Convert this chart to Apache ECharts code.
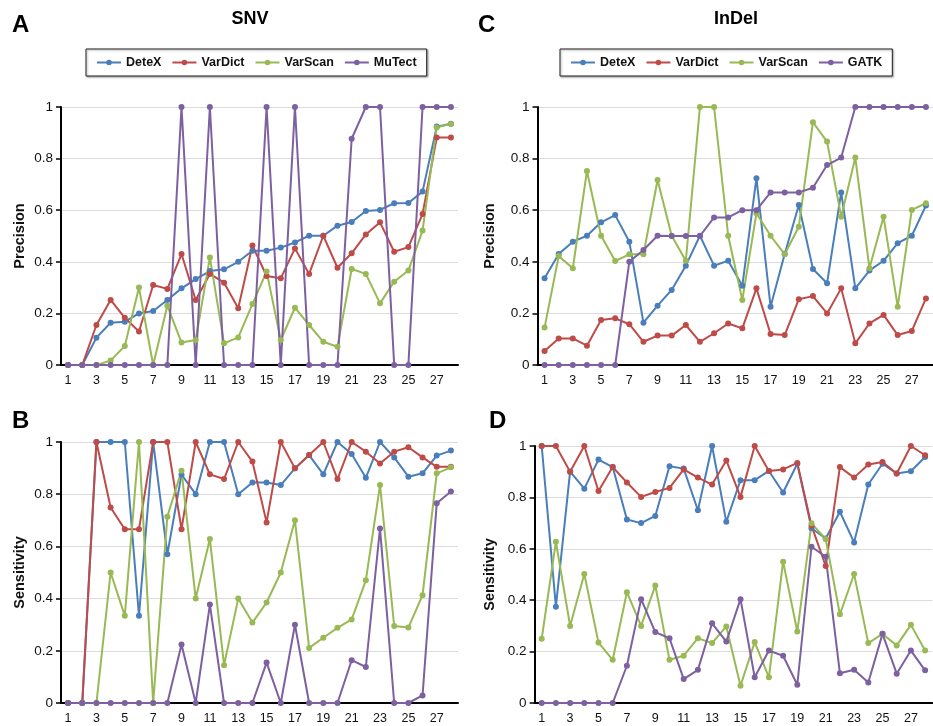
<!DOCTYPE html>
<html>
<head>
<meta charset="utf-8">
<script src="https://cdn.jsdelivr.net/npm/echarts@6/dist/echarts.min.js"></script>
<style>
  body { margin: 0; background: #fff; }
  #main { width: 933px; height: 726px; }
</style>
</head>
<body>
<div id="main"></div>
<script>
var cats = ['1','2','3','4','5','6','7','8','9','10','11','12','13','14',
            '15','16','17','18','19','20','21','22','23','24','25','26','27','28'];

// A - SNV precision
var snvPrecDetex = [0, 0, 0.106, 0.164, 0.168, 0.2, 0.209, 0.252, 0.297, 0.333, 0.364, 0.371, 0.40, 0.443, 0.443, 0.455, 0.475, 0.501, 0.501, 0.54, 0.554, 0.597, 0.601, 0.627, 0.628, 0.672, 0.924, 0.935];
var snvPrecVardict = [0, 0, 0.155, 0.252, 0.183, 0.13, 0.31, 0.295, 0.43, 0.252, 0.353, 0.319, 0.22, 0.463, 0.345, 0.336, 0.452, 0.353, 0.501, 0.377, 0.433, 0.506, 0.553, 0.439, 0.457, 0.585, 0.882, 0.882];
var snvPrecVarscan = [0, 0, 0, 0.017, 0.074, 0.30, 0, 0.23, 0.087, 0.097, 0.417, 0.084, 0.107, 0.236, 0.362, 0.097, 0.222, 0.155, 0.09, 0.071, 0.372, 0.353, 0.239, 0.323, 0.366, 0.521, 0.921, 0.934];
var snvPrecMutect = [0, 0, 0, 0, 0, 0, 0, 0, 1, 0, 1, 0, 0, 0, 1, 0, 1, 0, 0, 0, 0.877, 1, 1, 0, 0, 1, 1, 1];

// B - SNV sensitivity
var snvSensDetex = [0, 0, 1, 1, 1, 0.334, 1, 0.57, 0.875, 0.80, 1, 1, 0.80, 0.845, 0.845, 0.835, 0.899, 0.95, 0.876, 1, 0.954, 0.863, 1, 0.941, 0.867, 0.88, 0.948, 0.967];
var snvSensVardict = [0, 0, 1, 0.749, 0.666, 0.666, 1, 1, 0.666, 1, 0.876, 0.858, 1, 0.925, 0.692, 1, 0.899, 0.95, 1, 0.858, 1, 0.963, 0.918, 0.963, 0.98, 0.941, 0.905, 0.905];
var snvSensVarscan = [0, 0, 0, 0.5, 0.334, 1, 0, 0.714, 0.89, 0.40, 0.628, 0.145, 0.40, 0.308, 0.385, 0.5, 0.70, 0.211, 0.25, 0.288, 0.32, 0.47, 0.835, 0.295, 0.289, 0.413, 0.88, 0.903];
var snvSensMutect = [0, 0, 0, 0, 0, 0, 0, 0, 0.224, 0, 0.377, 0, 0, 0, 0.155, 0, 0.30, 0, 0, 0, 0.164, 0.138, 0.669, 0, 0, 0.029, 0.765, 0.81];

// C - InDel precision
var indPrecDetex = [0.336, 0.43, 0.478, 0.501, 0.553, 0.581, 0.478, 0.164, 0.23, 0.291, 0.385, 0.501, 0.385, 0.404, 0.307, 0.724, 0.226, 0.43, 0.62, 0.372, 0.317, 0.669, 0.297, 0.366, 0.404, 0.472, 0.501, 0.618];
var indPrecVardict = [0.054, 0.103, 0.103, 0.075, 0.174, 0.181, 0.158, 0.09, 0.114, 0.114, 0.155, 0.09, 0.123, 0.161, 0.142, 0.297, 0.12, 0.116, 0.255, 0.267, 0.20, 0.297, 0.084, 0.161, 0.194, 0.116, 0.132, 0.258];
var indPrecVarscan = [0.145, 0.422, 0.375, 0.752, 0.501, 0.403, 0.429, 0.429, 0.717, 0.501, 0.404, 1, 1, 0.501, 0.252, 0.588, 0.501, 0.429, 0.536, 0.941, 0.866, 0.575, 0.804, 0.375, 0.575, 0.226, 0.601, 0.627];
var indPrecGatk = [0, 0, 0, 0, 0, 0, 0.40, 0.446, 0.501, 0.5, 0.5, 0.5, 0.572, 0.572, 0.60, 0.60, 0.669, 0.669, 0.669, 0.687, 0.775, 0.804, 1, 1, 1, 1, 1, 1];

// D - InDel sensitivity
var indSensDetex = [1, 0.375, 0.90, 0.834, 0.947, 0.918, 0.714, 0.70, 0.728, 0.921, 0.912, 0.75, 1, 0.705, 0.867, 0.867, 0.903, 0.819, 0.931, 0.68, 0.64, 0.744, 0.625, 0.85, 0.931, 0.893, 0.902, 0.957];
var indSensVardict = [1, 1, 0.90, 1, 0.825, 0.918, 0.858, 0.802, 0.821, 0.837, 0.909, 0.877, 0.85, 0.944, 0.802, 1, 0.903, 0.909, 0.934, 0.69, 0.533, 0.918, 0.877, 0.928, 0.938, 0.893, 1, 0.964];
var indSensVarscan = [0.25, 0.627, 0.30, 0.502, 0.235, 0.168, 0.431, 0.30, 0.457, 0.168, 0.184, 0.252, 0.233, 0.298, 0.067, 0.237, 0.10, 0.55, 0.278, 0.699, 0.638, 0.345, 0.502, 0.233, 0.269, 0.224, 0.304, 0.204];
var indSensGatk = [0, 0, 0, 0, 0, 0, 0.145, 0.404, 0.276, 0.252, 0.093, 0.129, 0.31, 0.239, 0.404, 0.10, 0.204, 0.184, 0.071, 0.608, 0.569, 0.116, 0.129, 0.08, 0.269, 0.114, 0.204, 0.127];

var blue = '#4a7ebb', red = '#be4b48', green = '#98b954', purple = '#7d60a0';
var font = 'Liberation Sans, Arial, sans-serif';

function mk(name, data, color, idx) {
    return {
        name: name,
        type: 'line',
        xAxisIndex: idx,
        yAxisIndex: idx,
        data: data,
        symbol: 'circle',
        symbolSize: 6,
        color: color,
        lineStyle: { width: 2, color: color },
        itemStyle: { color: color },
        animation: false
    };
}

function xax(idx) {
    return {
        type: 'category',
        gridIndex: idx,
        data: cats,
        axisLine: { lineStyle: { color: '#000', width: 2 } },
        axisTick: { interval: 0, length: 4, lineStyle: { color: '#000', width: 1.5 } },
        axisLabel: { interval: 1, color: '#111', fontSize: 12.5, fontFamily: font, margin: 9 },
        splitLine: { show: false }
    };
}

function yax(idx, name, gap) {
    return {
        type: 'value',
        gridIndex: idx,
        min: 0,
        max: 1,
        interval: 0.2,
        name: name,
        nameLocation: 'middle',
        nameRotate: 90,
        nameGap: gap,
        nameTextStyle: { fontWeight: 'bold', fontSize: 14.5, color: '#111', fontFamily: font },
        axisLine: { show: true, lineStyle: { color: '#000', width: 2 } },
        axisTick: { show: true, length: 5, lineStyle: { color: '#000', width: 1.5 } },
        axisLabel: { color: '#111', fontSize: 13.5, fontFamily: font, margin: 8 },
        splitLine: { lineStyle: { color: '#dcdcdc', width: 1 } }
    };
}

function leg(left, names) {
    return {
        left: left,
        top: 49,
        data: names,
        orient: 'horizontal',
        itemWidth: 24,
        itemHeight: 7,
        itemGap: 10,
        padding: [7, 10, 7, 10],
        borderColor: '#222',
        borderWidth: 1,
        shadowColor: 'rgba(0,0,0,0.35)',
        shadowBlur: 2,
        shadowOffsetX: 1,
        shadowOffsetY: 1,
        backgroundColor: '#fff',
        textStyle: { fontWeight: 'bold', fontSize: 12.5, color: '#111', fontFamily: font }
    };
}

function lbl(text, left, top, size) {
    return {
        text: text,
        left: left,
        top: top,
        padding: 0,
        textStyle: { fontWeight: 'bold', fontSize: size, color: '#000', fontFamily: font }
    };
}

var myChart = echarts.init(document.getElementById('main'));
var option = {
    backgroundColor: '#fff',
    animation: false,
    title: [
        lbl('A', 12, 13, 24),
        lbl('B', 12, 409, 24),
        lbl('C', 478, 13, 24),
        lbl('D', 489, 409, 24),
        { text: 'SNV', left: 250, top: 10, textAlign: 'center', padding: 0,
          textStyle: { fontWeight: 'bold', fontSize: 18, color: '#000', fontFamily: font } },
        { text: 'InDel', left: 736, top: 10, textAlign: 'center', padding: 0,
          textStyle: { fontWeight: 'bold', fontSize: 18, color: '#000', fontFamily: font } }
    ],
    legend: [
        leg(86, ['DeteX', 'VarDict', 'VarScan', 'MuTect']),
        leg(560, ['DeteX', 'VarDict', 'VarScan', 'GATK'])
    ],
    grid: [
        { left: 61, top: 107, width: 397, height: 258 },
        { left: 61, top: 442, width: 397, height: 261 },
        { left: 537.5, top: 107, width: 399, height: 258 },
        { left: 534.6, top: 446, width: 397.6, height: 257 }
    ],
    xAxis: [xax(0), xax(1), xax(2), xax(3)],
    yAxis: [
        yax(0, 'Precision', 34),
        yax(1, 'Sensitivity', 34),
        yax(2, 'Precision', 40),
        yax(3, 'Sensitivity', 37)
    ],
    series: [
        mk('DeteX', snvPrecDetex, blue, 0),
        mk('VarDict', snvPrecVardict, red, 0),
        mk('VarScan', snvPrecVarscan, green, 0),
        mk('MuTect', snvPrecMutect, purple, 0),
        mk('DeteX', snvSensDetex, blue, 1),
        mk('VarDict', snvSensVardict, red, 1),
        mk('VarScan', snvSensVarscan, green, 1),
        mk('MuTect', snvSensMutect, purple, 1),
        mk('DeteX', indPrecDetex, blue, 2),
        mk('VarDict', indPrecVardict, red, 2),
        mk('VarScan', indPrecVarscan, green, 2),
        mk('GATK', indPrecGatk, purple, 2),
        mk('DeteX', indSensDetex, blue, 3),
        mk('VarDict', indSensVardict, red, 3),
        mk('VarScan', indSensVarscan, green, 3),
        mk('GATK', indSensGatk, purple, 3)
    ]
};
myChart.setOption(option);
</script>
</body>
</html>
